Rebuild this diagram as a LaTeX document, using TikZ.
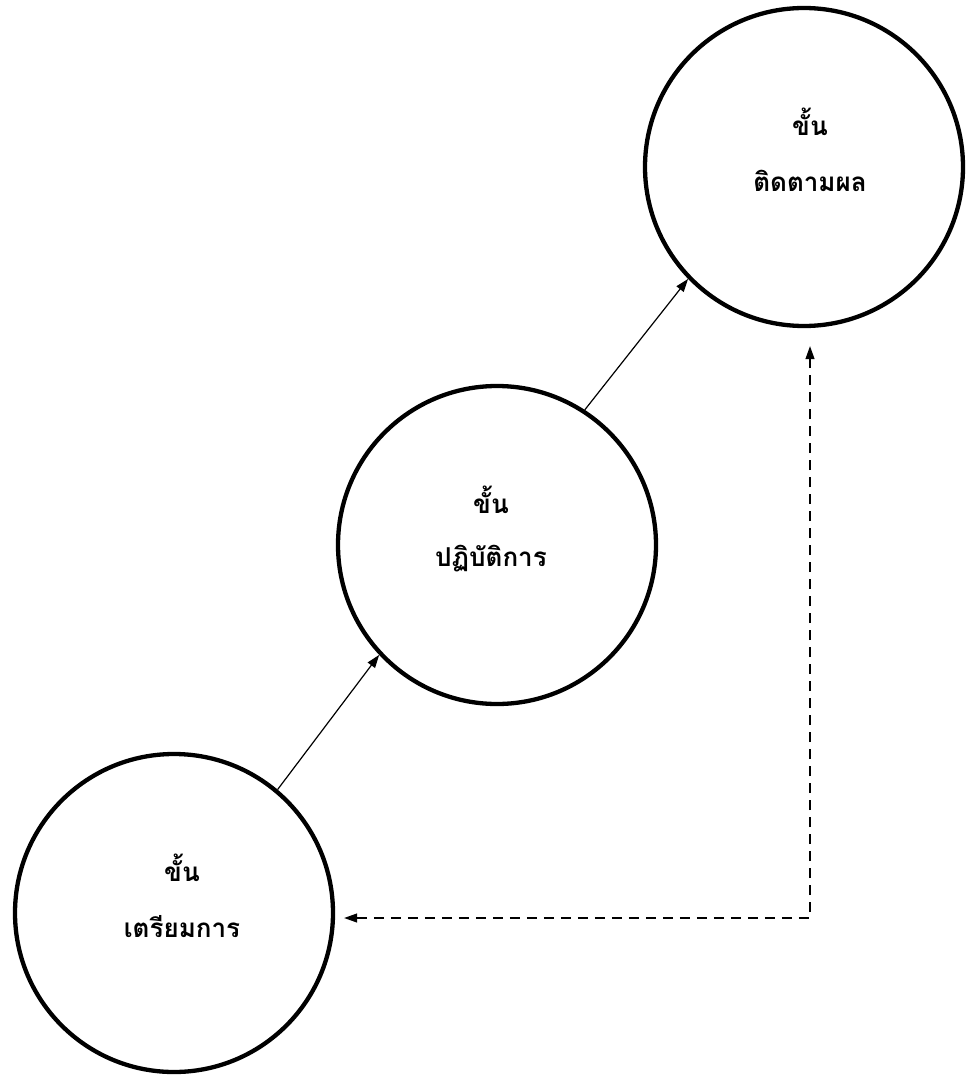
\documentclass[tikz,border=0pt]{standalone}
\usepackage{fontspec}
\newfontfamily\thaifont[Script=Thai]{Loma}
\usetikzlibrary{arrows.meta}
\begin{document}
\begin{tikzpicture}[x=1pt,y=-1pt,
  stage/.style={circle,draw,line width=4.3pt,minimum size=318pt,inner sep=0pt},
  lbl/.style={font=\thaifont\bfseries\fontsize{26}{30}\selectfont,inner sep=0pt},
  flow/.style={-{Triangle[length=13pt,width=9pt]},line width=1.2pt},
  back/.style={{Triangle[length=13pt,width=9pt]}-{Triangle[length=13pt,width=9pt]},line width=1.2pt,dash pattern=on 10pt off 7pt}]
\useasboundingbox (0,0) rectangle (967,1075);
\node[stage] (c1) at (174,913) {};
\node[stage] (c2) at (497,545) {};
\node[stage] (c3) at (804,167) {};
\node[lbl] (t1a) at ([xshift=8pt,yshift=45pt]c1.center) {ขั้น};
\node[lbl] (t1b) at ([xshift=8pt,yshift=-14pt]c1.center) {เตรียมการ};
\node[lbl] (t2a) at ([xshift=-6pt,yshift=45pt]c2.center) {ขั้น};
\node[lbl] (t2b) at ([xshift=-6pt,yshift=-14pt]c2.center) {ปฏิบัติการ};
\node[lbl] (t3a) at ([xshift=6pt,yshift=45pt]c3.center) {ขั้น};
\node[lbl] (t3b) at ([xshift=6pt,yshift=-14pt]c3.center) {ติดตามผล};
\draw[flow] (c1.50.6) -- (c2.223.5);
\draw[flow] (c2.57.8) -- (c3.224.8);
\coordinate (corner) at (810,918);
\draw[back,shorten <=9pt,shorten >=18pt] (corner -| c1.east) -- (corner) -- (corner |- c3.south);
\end{tikzpicture}
\end{document}
